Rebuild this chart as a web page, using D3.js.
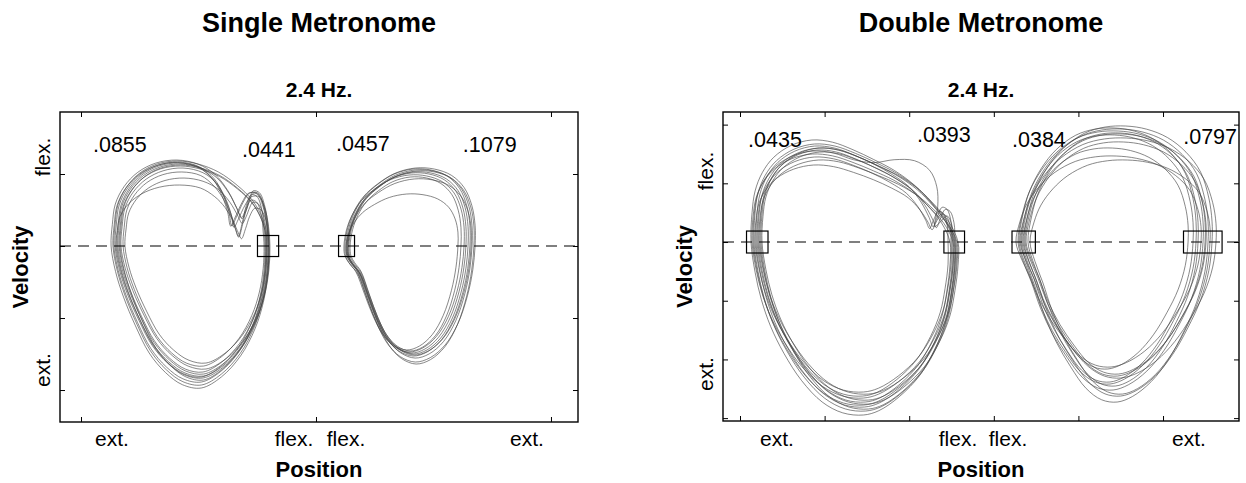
<!DOCTYPE html>
<html>
<head>
<meta charset="utf-8">
<script src="https://cdn.jsdelivr.net/npm/d3@7"></script>
<style>
  body { margin: 0; background: #fff; }
  svg text { font-family: "Liberation Sans", Arial, Helvetica, sans-serif; fill: #000; }
</style>
</head>
<body>
<svg id="chart" width="1246" height="483"></svg>
<script>
// ---------------------------------------------------------------
// Phase-plane trajectories (position vs. velocity) at 2.4 Hz.
// Position and velocity in tick units, flex. velocity positive.
// ---------------------------------------------------------------
const panelTitles = ["Single Metronome", "Double Metronome"];
const rateLabel = "2.4 Hz.";
const positionTickLabels = ["ext.", "flex.", "flex.", "ext."];
const velocityTickLabels = ["flex.", "ext."];
const positionTitle = "Position";
const velocityTitle = "Velocity";

// standard deviations of the reversal positions
const singleSD = [".0855", ".0441", ".0457", ".1079"];
const doubleSD = [".0435", ".0393", ".0384", ".0797"];

const singlePosTicks = [0, 1, 2];
const singleVelTicks = [1, 0, -1, -2];
const doublePosTicks = [0, 1, 2, 3, 4, 5];
const doubleVelTicks = [2, 1, 0, -1, -2, -3];

// typical cycle outlines, [position, velocity]
const singleLeftUpper = [
  [0.157,0],[0.162,0.292],[0.174,0.569],[0.209,0.806],[0.264,1.0],[0.336,1.125],[0.421,1.167]
];
const singleLeftLower = [
  [0.791,0],[0.787,-0.333],[0.770,-0.681],[0.736,-1.028],[0.677,-1.375],[0.600,-1.639],
  [0.519,-1.778],[0.443,-1.736],[0.375,-1.583],[0.310,-1.340],[0.255,-1.000],
  [0.207,-0.640],[0.175,-0.320]
];
const singleLeftSmooth = [
  ...singleLeftUpper,
  [0.506,1.125],[0.591,1.014],[0.668,0.833],[0.728,0.639],[0.766,0.431],[0.787,0.222],
  ...singleLeftLower
];
const singleLeftHook = [
  ...singleLeftUpper,
  [0.506,1.111],[0.574,0.972],[0.626,0.750],[0.660,0.528],[0.681,0.389],[0.698,0.500],
  [0.715,0.667],[0.728,0.750],[0.753,0.722],[0.774,0.542],[0.787,0.278],
  ...singleLeftLower
];
const singleLeftDeepHook = [
  ...singleLeftUpper,
  [0.506,1.111],[0.566,0.944],[0.609,0.736],[0.643,0.472],[0.664,0.250],[0.677,0.139],
  [0.694,0.333],[0.711,0.569],[0.732,0.722],[0.757,0.694],[0.779,0.486],[0.787,0.222],
  ...singleLeftLower
];
const singleLeftEarlyHook = [
  ...singleLeftUpper,
  [0.506,1.097],[0.566,0.931],[0.604,0.694],[0.626,0.472],[0.638,0.278],[0.655,0.389],
  [0.685,0.611],[0.711,0.736],[0.745,0.736],[0.770,0.556],[0.785,0.292],
  ...singleLeftLower
];
const singleRightOutline = [
  [1.128,0],[1.140,0.25],[1.166,0.472],[1.204,0.667],[1.260,0.833],[1.328,0.972],
  [1.409,1.042],[1.485,1.028],[1.553,0.944],[1.604,0.778],[1.634,0.542],[1.647,0.278],
  [1.647,0],[1.638,-0.306],[1.617,-0.639],[1.579,-1.0],[1.528,-1.278],[1.468,-1.444],
  [1.409,-1.5],[1.349,-1.431],[1.298,-1.264],[1.255,-1.0],[1.217,-0.681],[1.179,-0.361],
  [1.149,-0.236],[1.132,-0.139]
];

const doubleLeftUpper = [
  [0.189,0],[0.201,0.460],[0.236,0.801],[0.319,1.090],[0.449,1.329],[0.650,1.516],
  [0.887,1.601],[1.123,1.567],[1.359,1.448]
];
const doubleLeftLower = [
  [2.518,0],[2.518,-0.392],[2.482,-0.818],[2.423,-1.244],[2.305,-1.670],[2.128,-2.095],
  [1.891,-2.436],[1.655,-2.658],[1.478,-2.726],[1.241,-2.692],[1.005,-2.521],
  [0.768,-2.181],[0.567,-1.755],[0.414,-1.329],[0.307,-0.903],[0.236,-0.477]
];
const doubleLeftSmooth = [
  ...doubleLeftUpper,
  [1.596,1.295],[1.832,1.124],[2.069,0.886],[2.246,0.630],[2.411,0.341],
  ...doubleLeftLower
];
const doubleLeftHook = [
  ...doubleLeftUpper,
  [1.596,1.295],[1.809,1.124],[2.009,0.920],[2.151,0.664],[2.246,0.409],[2.293,0.256],
  [2.340,0.409],[2.400,0.579],[2.459,0.545],[2.506,0.341],
  ...doubleLeftLower
];
const doubleLeftHump = [
  ...doubleLeftUpper,
  [1.596,1.397],[1.832,1.448],[2.069,1.431],[2.246,1.261],[2.329,0.971],[2.340,0.630],
  [2.305,0.273],[2.364,0.341],[2.447,0.460],[2.506,0.290],
  ...doubleLeftLower
];
const doubleRightOutline = [
  [3.333,0],[3.381,0.460],[3.463,0.852],[3.605,1.227],[3.783,1.533],[4.019,1.772],
  [4.255,1.874],[4.492,1.891],[4.728,1.840],[4.965,1.704],[5.177,1.465],[5.343,1.141],
  [5.437,0.716],[5.473,0.341],[5.473,0],[5.437,-0.443],[5.343,-0.903],[5.201,-1.329],
  [5.024,-1.755],[4.823,-2.095],[4.610,-2.317],[4.433,-2.402],[4.255,-2.368],
  [4.078,-2.198],[3.901,-1.874],[3.735,-1.499],[3.593,-1.073],[3.487,-0.647],
  [3.392,-0.307]
];

// individual cycles: [min position, max position, peak flex. velocity, peak ext. velocity, outline]
const singleLeftCycles = [
  [0.128,0.800,1.194,-1.972,1],[0.140,0.791,1.181,-1.889,0],[0.145,0.800,1.167,-1.833,3],
  [0.153,0.783,1.153,-1.819,2],[0.157,0.796,1.139,-1.778,1],[0.162,0.787,1.111,-1.750,0],
  [0.170,0.804,1.083,-1.708,3],[0.179,0.779,1.028,-1.667,2],[0.187,0.791,0.944,-1.625,1],
  [0.149,0.800,0.847,-1.806,2],[0.166,0.787,1.125,-1.861,0],[0.136,0.796,1.160,-1.930,3]
];
const singleRightCycles = [
  [1.123,1.677,1.083,-1.611,0],[1.136,1.664,1.056,-1.556,0],[1.128,1.655,1.069,-1.528,0],
  [1.140,1.647,1.028,-1.500,0],[1.132,1.638,1.014,-1.486,0],[1.119,1.630,0.986,-1.472,0],
  [1.145,1.617,0.958,-1.458,0],[1.128,1.604,0.722,-1.444,0],[1.136,1.672,1.042,-1.639,0],
  [1.132,1.660,0.931,-1.514,0]
];
const doubleLeftCycles = [
  [0.130,2.530,1.738,-2.947,0],[0.165,2.553,1.670,-2.879,0],[0.189,2.506,1.635,-2.811,1],
  [0.213,2.577,1.601,-2.760,0],[0.236,2.482,1.567,-2.726,0],[0.260,2.541,1.533,-2.692,1],
  [0.142,2.518,1.499,-2.658,0],[0.201,2.459,1.448,-2.624,1],[0.224,2.565,1.397,-2.590,0],
  [0.177,2.494,1.312,-2.555,1],[0.248,2.541,1.601,-2.845,0],[0.154,2.518,1.550,-2.777,2]
];
const doubleRightCycles = [
  [3.322,5.532,1.925,-2.726,0],[3.357,5.579,1.976,-2.624,0],[3.286,5.473,1.891,-2.521,0],
  [3.404,5.414,1.857,-2.453,0],[3.333,5.355,1.823,-2.385,0],[3.310,5.626,1.772,-2.317,0],
  [3.381,5.508,1.704,-2.249,0],[3.345,5.296,1.601,-2.163,0],[3.262,5.449,1.465,-2.129,0],
  [3.428,5.555,1.397,-2.590,0],[3.298,5.390,1.942,-2.419,0],[3.369,5.497,1.840,-2.283,0]
];

// reversal boxes: [mean position, position spread, velocity spread]
const singleBoxes = [[0.796,0.045,0.146],[1.130,0.034,0.146]];
const doubleBoxes = [[0.204,0.127,0.187],[2.532,0.122,0.187],[3.353,0.138,0.187],[5.470,0.228,0.187]];

// ---------------------------------------------------------------
const svg = d3.select("#chart");

const panels = [
  {
    title: panelTitles[0], sd: singleSD,
    frame: { left: 60, right: 578, top: 112, bottom: 422 },
    xDomain: [-0.0894, 2.115], yDomain: [-2.444, 1.861],
    posTicks: singlePosTicks, velTicks: singleVelTicks,
    loops: [
      { outlines: [singleLeftSmooth, singleLeftHook, singleLeftDeepHook, singleLeftEarlyHook], cycles: singleLeftCycles },
      { outlines: [singleRightOutline], cycles: singleRightCycles }
    ],
    boxes: singleBoxes,
    sdPos: [[0.051, 1.305, "start"], [0.685, 1.236, "start"], [1.085, 1.32, "start"], [1.625, 1.305, "start"]],
    posLabelX: [112, 294, 346, 527],
    velLabel: { x: 28, flex: [50, 157], ext: [50, 370] }
  },
  {
    title: panelTitles[1], sd: doubleSD,
    frame: { left: 723, right: 1239, top: 112, bottom: 421 },
    xDomain: [-0.201, 5.898], yDomain: [-3.049, 2.215],
    posTicks: doublePosTicks, velTicks: doubleVelTicks,
    loops: [
      { outlines: [doubleLeftSmooth, doubleLeftHook, doubleLeftHump], cycles: doubleLeftCycles },
      { outlines: [doubleRightOutline], cycles: doubleRightCycles }
    ],
    boxes: doubleBoxes,
    sdPos: [[0.095, 1.62, "start"], [2.092, 1.70, "start"], [3.215, 1.62, "start"], [5.875, 1.67, "end"]],
    posLabelX: [777, 958, 1008, 1189],
    velLabel: { x: 692, flex: [713, 171], ext: [713, 374] }
  }
];

panels.forEach(p => {
  const f = p.frame;
  const cx = (f.left + f.right) / 2;
  const cy = (f.top + f.bottom) / 2;
  const x = d3.scaleLinear().domain(p.xDomain).range([f.left, f.right]);
  const y = d3.scaleLinear().domain(p.yDomain).range([f.bottom, f.top]);
  const g = svg.append("g");

  // titles
  g.append("text").attr("x", cx).attr("y", 32).attr("text-anchor", "middle")
    .attr("font-size", 27).attr("font-weight", "bold").text(p.title);
  g.append("text").attr("x", cx).attr("y", 97).attr("text-anchor", "middle")
    .attr("font-size", 21).attr("font-weight", "bold").text(rateLabel);

  // trajectories
  const line = d3.line().x(d => x(d[0])).y(d => y(d[1]))
    .curve(d3.curveCatmullRomClosed.alpha(0.5));
  const traces = g.append("g").attr("fill", "none").attr("stroke", "#444")
    .attr("stroke-width", 0.75).attr("stroke-opacity", 0.85);
  p.loops.forEach(loop => {
    loop.cycles.forEach(c => {
      const base = loop.outlines[c[4]];
      const p0 = d3.min(base, d => d[0]), p1 = d3.max(base, d => d[0]);
      const vTop = d3.max(base, d => d[1]), vBot = d3.min(base, d => d[1]);
      const pts = base.map(([pos, vel]) => [
        c[0] + (pos - p0) * (c[1] - c[0]) / (p1 - p0),
        vel >= 0 ? vel * c[2] / vTop : vel * c[3] / vBot
      ]);
      traces.append("path").attr("d", line(pts));
    });
  });

  // zero-velocity line
  g.append("line").attr("x1", f.left).attr("x2", f.right)
    .attr("y1", y(0)).attr("y2", y(0))
    .attr("stroke", "#000").attr("stroke-width", 1.1).attr("stroke-dasharray", "11,7");

  // reversal boxes
  g.append("g").selectAll("rect").data(p.boxes).join("rect")
    .attr("x", d => x(d[0] - d[1])).attr("width", d => x(d[0] + d[1]) - x(d[0] - d[1]))
    .attr("y", d => y(d[2])).attr("height", d => y(-d[2]) - y(d[2]))
    .attr("fill", "none").attr("stroke", "#000").attr("stroke-width", 1.2);

  // axes with inward ticks, no numeric labels
  const tick = 5;
  const axes = [
    [d3.axisBottom(x).tickValues(p.posTicks), `translate(0,${f.bottom})`],
    [d3.axisTop(x).tickValues(p.posTicks), `translate(0,${f.top})`],
    [d3.axisLeft(y).tickValues(p.velTicks), `translate(${f.left},0)`],
    [d3.axisRight(y).tickValues(p.velTicks), `translate(${f.right},0)`]
  ];
  axes.forEach(([ax, tr]) => {
    const a = g.append("g").attr("transform", tr)
      .call(ax.tickSize(-tick).tickSizeOuter(0).tickFormat(""));
    a.select(".domain").remove();
    a.selectAll("line").attr("stroke", "#000").attr("stroke-width", 1);
  });

  // frame
  g.append("rect").attr("x", f.left).attr("y", f.top)
    .attr("width", f.right - f.left).attr("height", f.bottom - f.top)
    .attr("fill", "none").attr("stroke", "#000").attr("stroke-width", 1.4);

  // reversal variability labels
  g.append("g").selectAll("text").data(p.sd).join("text")
    .attr("x", (d, i) => x(p.sdPos[i][0])).attr("y", (d, i) => y(p.sdPos[i][1]))
    .attr("text-anchor", (d, i) => p.sdPos[i][2])
    .attr("font-size", 21.5).text(d => d);

  // position tick labels and title
  g.append("g").selectAll("text").data(positionTickLabels).join("text")
    .attr("x", (d, i) => p.posLabelX[i]).attr("y", 446)
    .attr("text-anchor", "middle").attr("font-size", 21).text(d => d);
  g.append("text").attr("x", cx).attr("y", 477).attr("text-anchor", "middle")
    .attr("font-size", 22).attr("font-weight", "bold").text(positionTitle);

  // velocity tick labels and title
  [[velocityTickLabels[0], p.velLabel.flex], [velocityTickLabels[1], p.velLabel.ext]].forEach(([t, pos]) => {
    g.append("text").attr("transform", `translate(${pos[0]},${pos[1]}) rotate(-90)`)
      .attr("text-anchor", "middle").attr("font-size", 21).text(t);
  });
  g.append("text").attr("transform", `translate(${p.velLabel.x},${cy}) rotate(-90)`)
    .attr("text-anchor", "middle").attr("font-size", 22).attr("font-weight", "bold")
    .text(velocityTitle);
});
</script>
</body>
</html>
